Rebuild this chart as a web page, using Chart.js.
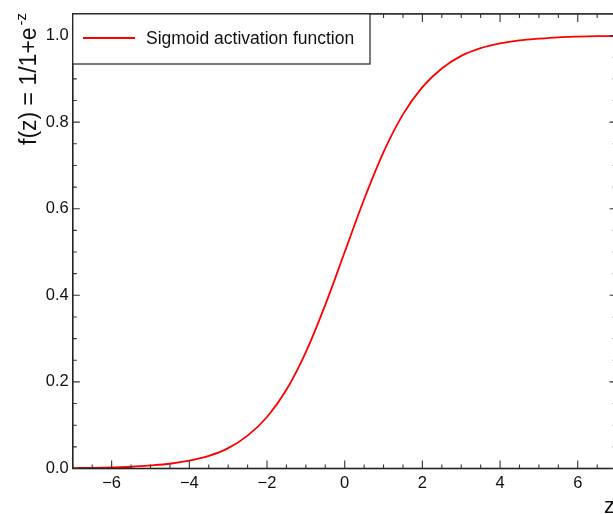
<!DOCTYPE html>
<html>
<head>
<meta charset="utf-8">
<script src="https://cdn.jsdelivr.net/npm/chart.js@4/dist/chart.umd.min.js"></script>
<style>
  html, body { margin: 0; padding: 0; background: #fff; overflow: hidden; }
  #wrap { width: 630px; height: 514px; }
</style>
</head>
<body>
<div id="wrap"><canvas id="sigmoidChart" width="630" height="514"></canvas></div>
<script>
// Values
const zValues = [-7, -6.5, -6, -5.5, -5, -4.5, -4, -3.5, -3, -2.5, -2, -1.5, -1, -0.5, 0,
                 0.5, 1, 1.5, 2, 2.5, 3, 3.5, 4, 4.5, 5, 5.5, 6, 6.5, 7];
const fValues = [0.001, 0.0015, 0.0025, 0.004, 0.007, 0.011, 0.018, 0.029, 0.047, 0.076, 0.119, 0.182, 0.269, 0.378, 0.5,
                 0.622, 0.731, 0.818, 0.881, 0.924, 0.953, 0.971, 0.982, 0.989, 0.993, 0.996, 0.9975, 0.9985, 0.999];

// Tick labels
const xMajorTicks = [-6, -4, -2, 0, 2, 4, 6];
const yMajorTicks = [0, 0.2, 0.4, 0.6, 0.8, 1.0];
const xMinorStep = 0.5;
const yMinorStep = 0.05;

const seriesLabel = 'Sigmoid activation function';
const FONT = '"Liberation Sans", Arial, sans-serif';

// Frame, inward ticks, legend and axis titles
const decorPlugin = {
    id: 'decor',
    afterDatasetsDraw(chart) {
        const ctx = chart.ctx;
        const area = chart.chartArea;
        const xs = chart.scales.x;
        const ys = chart.scales.y;
        ctx.save();

        // frame
        ctx.strokeStyle = '#222';
        ctx.lineWidth = 1.6;
        ctx.strokeRect(area.left, area.top, area.right - area.left, area.bottom - area.top);

        // ticks
        ctx.lineWidth = 1.1;
        ctx.strokeStyle = '#333';
        ctx.beginPath();
        for (let v = xs.min; v <= xs.max + 1e-9; v += xMinorStep) {
            const major = xMajorTicks.some(t => Math.abs(t - v) < 1e-6);
            const len = major ? 8 : 4;
            const px = xs.getPixelForValue(v);
            ctx.moveTo(px, area.bottom); ctx.lineTo(px, area.bottom - len);
            ctx.moveTo(px, area.top); ctx.lineTo(px, area.top + len);
        }
        for (let v = ys.min; v <= ys.max + 1e-9; v += yMinorStep) {
            const major = yMajorTicks.some(t => Math.abs(t - v) < 1e-6);
            const len = major ? 7 : 4;
            const py = ys.getPixelForValue(v);
            ctx.moveTo(area.left, py); ctx.lineTo(area.left + len, py);
            ctx.moveTo(area.right, py); ctx.lineTo(area.right - len, py);
        }
        ctx.stroke();

        // legend box
        const lx = area.left, ly = area.top, lw = 370 - area.left, lh = 64 - area.top;
        ctx.fillStyle = '#fff';
        ctx.fillRect(lx, ly, lw, lh);
        ctx.strokeStyle = '#222';
        ctx.lineWidth = 1.2;
        ctx.strokeRect(lx, ly, lw, lh);
        const ds = chart.data.datasets[0];
        ctx.strokeStyle = ds.borderColor;
        ctx.lineWidth = 1.8;
        ctx.beginPath();
        ctx.moveTo(83, 38); ctx.lineTo(135, 38);
        ctx.stroke();
        ctx.fillStyle = '#111';
        ctx.font = '17.5px ' + FONT;
        ctx.textAlign = 'left';
        ctx.textBaseline = 'middle';
        ctx.fillText(ds.label, 146, 39);

        // y title with superscript
        ctx.save();
        ctx.translate(35.5, 145);
        ctx.rotate(-Math.PI / 2);
        ctx.textBaseline = 'alphabetic';
        ctx.font = '23px ' + FONT;
        const main = 'f(z) = 1/1+e';
        ctx.fillText(main, 0, 0);
        const w = ctx.measureText(main).width;
        ctx.font = '15px ' + FONT;
        ctx.fillText('-z', w + 2, -10);
        ctx.restore();

        // x title
        ctx.font = '22px ' + FONT;
        ctx.textBaseline = 'alphabetic';
        ctx.fillText('z', 604, 513);

        ctx.restore();
    }
};

function initChart() {
    const ctx = document.getElementById('sigmoidChart').getContext('2d');
    const points = zValues.map((z, i) => ({ x: z, y: fValues[i] }));

    new Chart(ctx, {
        type: 'line',
        data: {
            datasets: [{
                label: seriesLabel,
                data: points,
                borderColor: '#ff0000',
                borderWidth: 1.8,
                pointRadius: 0,
                cubicInterpolationMode: 'monotone',
                fill: false
            }]
        },
        options: {
            responsive: false,
            animation: false,
            devicePixelRatio: 1,
            layout: { padding: { top: 11.4, right: 13.4, left: 0, bottom: 0 } },
            plugins: {
                legend: { display: false },
                tooltip: { enabled: false }
            },
            scales: {
                x: {
                    type: 'linear',
                    min: -7,
                    max: 7,
                    grid: { display: false, drawTicks: false },
                    border: { display: false },
                    afterBuildTicks: s => { s.ticks = xMajorTicks.map(v => ({ value: v })); },
                    afterFit: s => { s.height = 45.5; },
                    ticks: {
                        padding: 5,
                        color: '#111',
                        font: { family: FONT, size: 16.5 },
                        maxRotation: 0,
                        callback: v => String(v).replace('-', '\u2212')
                    }
                },
                y: {
                    type: 'linear',
                    min: 0,
                    max: 1.05,
                    grid: { display: false, drawTicks: false },
                    border: { display: false },
                    afterBuildTicks: s => { s.ticks = yMajorTicks.map(v => ({ value: v })); },
                    afterFit: s => { s.width = 72.8; },
                    ticks: {
                        padding: 4,
                        color: '#111',
                        font: { family: FONT, size: 16.5 },
                        callback: v => v.toFixed(1)
                    }
                }
            }
        },
        plugins: [decorPlugin]
    });
}

initChart();
</script>
</body>
</html>
